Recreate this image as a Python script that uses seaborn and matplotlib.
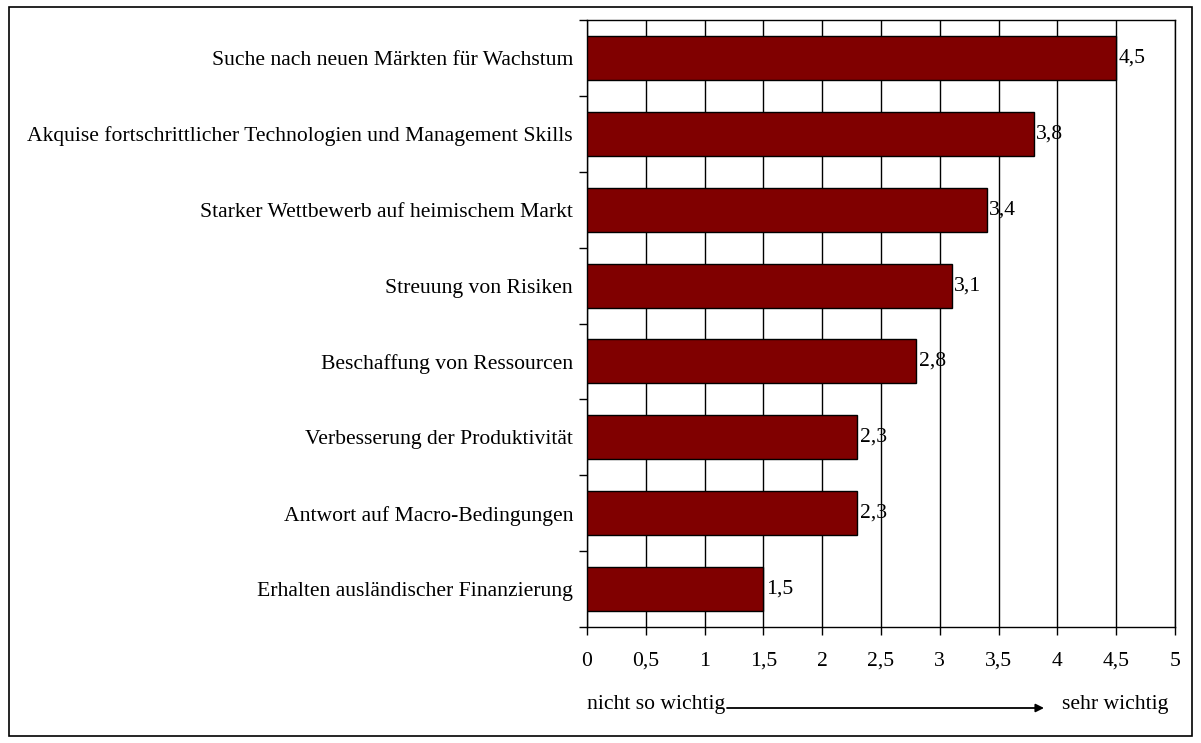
import matplotlib
matplotlib.use('Agg')
import matplotlib.pyplot as plt
import matplotlib.ticker as mticker
from matplotlib.patches import Rectangle
import numpy as np
import pandas as pd
import seaborn as sns

# chart data
motive = [
    'Suche nach neuen Märkten für Wachstum',
    'Akquise fortschrittlicher Technologien und Management Skills',
    'Starker Wettbewerb auf heimischem Markt',
    'Streuung von Risiken',
    'Beschaffung von Ressourcen',
    'Verbesserung der Produktivität',
    'Antwort auf Macro-Bedingungen',
    'Erhalten ausländischer Finanzierung',
]
werte = [4.5, 3.8, 3.4, 3.1, 2.8, 2.3, 2.3, 1.5]
x_ticks = [0, 0.5, 1, 1.5, 2, 2.5, 3, 3.5, 4, 4.5, 5]

df = pd.DataFrame({'Motiv': motive, 'Wert': werte})

sns.set_style('white')
plt.rcParams['font.family'] = ['Liberation Serif', 'DejaVu Serif']
plt.rcParams['text.color'] = 'black'
plt.rcParams['xtick.color'] = 'black'
plt.rcParams['ytick.color'] = 'black'
fs = 15.6

def komma(v, pos=None):
    return ('%g' % v).replace('.', ',')

fig = plt.figure(figsize=(12.01, 7.43), dpi=100)
ax = fig.add_axes([587 / 1201, 1 - 627 / 743, (1175 - 587) / 1201, (627 - 20) / 743])

sns.barplot(data=df, x='Wert', y='Motiv', orient='h', color='#800000',
            edgecolor='black', linewidth=1, width=0.58, saturation=1, ax=ax, zorder=3)

ax.set_xlim(0, 5)
ax.set_ylim(len(motive) - 0.5, -0.5)
ax.set_xticks(x_ticks)
ax.xaxis.set_major_formatter(mticker.FuncFormatter(komma))
ax.grid(axis='x', color='black', linewidth=1, zorder=0)
ax.set_axisbelow(True)

# category labels at bar centres, tick marks at the boundaries
ax.set_yticks(np.arange(len(motive)))
ax.set_yticklabels(motive)
ax.set_yticks(np.arange(len(motive) + 1) - 0.5, minor=True)
ax.tick_params(axis='y', which='major', length=0, pad=10, labelsize=fs)
ax.tick_params(axis='y', which='minor', length=6, width=1, color='black', left=True)
ax.tick_params(axis='x', which='major', length=6, width=1, color='black', bottom=True,
               pad=12, labelsize=fs)
ax.set_xlabel('')
ax.set_ylabel('')
for s in ax.spines.values():
    s.set_color('black')
    s.set_linewidth(1)

# value labels
for i, v in enumerate(werte):
    ax.text(v + 0.02, i, komma(v), va='center', ha='left', fontsize=fs, zorder=5)

# scale description below the axis
fig.text(587 / 1201, 1 - 705 / 743, 'nicht so wichtig', fontsize=fs, ha='left', va='center')
fig.text(1168 / 1201, 1 - 705 / 743, 'sehr wichtig', fontsize=fs, ha='right', va='center')
ax.annotate('', xy=(1044 / 1201, 1 - 708 / 743), xytext=(727 / 1201, 1 - 708 / 743),
            xycoords='figure fraction', textcoords='figure fraction',
            arrowprops=dict(arrowstyle='-|>', color='black', lw=1.3, mutation_scale=12,
                            shrinkA=0, shrinkB=0))

# figure frame
fig.patches.append(Rectangle((9 / 1201, 1 - 736 / 743), 1183 / 1201, 729 / 743,
                             transform=fig.transFigure, fill=False,
                             edgecolor='black', linewidth=1.2))

fig.savefig('out.png', dpi=100)
